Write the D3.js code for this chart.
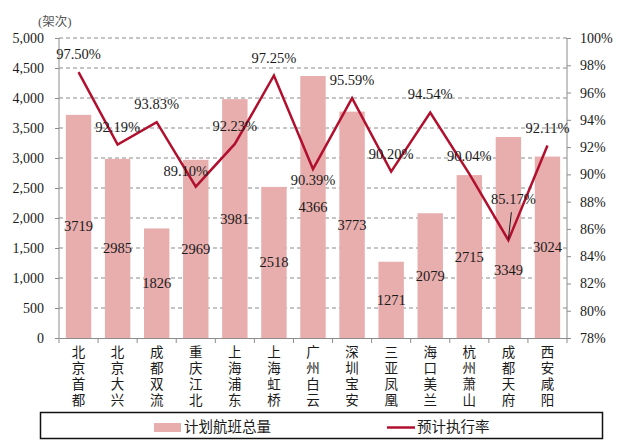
<!DOCTYPE html>
<html>
<head>
<meta charset="utf-8">
<script src="https://cdn.jsdelivr.net/npm/d3@7"></script>
<style>
  body { margin: 0; background: #fff; }
</style>
</head>
<body>
<div id="chart"></div>
<script>
// data
var airports = ["北京首都", "北京大兴", "成都双流", "重庆江北", "上海浦东", "上海虹桥", "广州白云",
                "深圳宝安", "三亚凤凰", "海口美兰", "杭州萧山", "成都天府", "西安咸阳"];
var flights = [3719, 2985, 1826, 2969, 3981, 2518, 4366, 3773, 1271, 2079, 2715, 3349, 3024];
var rates = [97.50, 92.19, 93.83, 89.10, 92.23, 97.25, 90.39, 95.59, 90.20, 94.54, 90.04, 85.17, 92.11];
var leftTicks = [0, 500, 1000, 1500, 2000, 2500, 3000, 3500, 4000, 4500, 5000];
var rightTicks = [78, 80, 82, 84, 86, 88, 90, 92, 94, 96, 98, 100];

var width = 625, height = 441;
var m = {left: 59, right: 567, top: 38, bottom: 338};
var barColor = "#e8adad", lineColor = "#b0102e";
var serif = "'Liberation Serif', 'Times New Roman', serif";
var cjk = "'Noto Sans CJK SC', sans-serif";

var svg = d3.select("#chart").append("svg").attr("width", width).attr("height", height);

var x = d3.scaleBand().domain(airports).range([m.left, m.right]).paddingInner(0.35).paddingOuter(0.175);
var xb = d3.scaleBand().domain(airports).range([m.left, m.right]);
var y = d3.scaleLinear().domain([0, 5000]).range([m.bottom, m.top]);
var y2 = d3.scaleLinear().domain([78, 100]).range([m.bottom, m.top]);

// grid
svg.append("g").selectAll("line")
  .data(leftTicks.filter(d => d > 0))
  .join("line")
  .attr("x1", m.left).attr("x2", m.right)
  .attr("y1", d => y(d)).attr("y2", d => y(d))
  .attr("stroke", "#8a8a8a").attr("stroke-width", 1).attr("stroke-dasharray", "4,3");

// bars
svg.append("g").selectAll("rect")
  .data(flights)
  .join("rect")
  .attr("x", (d, i) => x(airports[i]))
  .attr("width", x.bandwidth())
  .attr("y", d => y(d))
  .attr("height", d => y(0) - y(d))
  .attr("fill", barColor);

// axes
var axL = svg.append("g").attr("transform", "translate(" + m.left + ",0)")
  .call(d3.axisLeft(y).tickValues(leftTicks).tickSize(4).tickPadding(11).tickFormat(d3.format(",")));
var axR = svg.append("g").attr("transform", "translate(" + m.right + ",0)")
  .call(d3.axisRight(y2).tickValues(rightTicks).tickSize(4).tickPadding(9).tickFormat(d => d + "%"));
var axB = svg.append("g").attr("transform", "translate(0," + m.bottom + ")")
  .call(d3.axisBottom(xb).tickSize(0).tickFormat(""));
[axL, axR, axB].forEach(function(g) {
  g.attr("font-family", serif).attr("font-size", 14);
  g.select(".domain").attr("stroke", "#8c8c8c");
  g.selectAll(".tick line").attr("stroke", "#8c8c8c");
  g.selectAll("text").attr("fill", "#1a1a1a");
});
axL.select(".domain").attr("d", "M0," + m.top + "V" + m.bottom);
axR.select(".domain").attr("d", "M0," + m.top + "V" + m.bottom);

// category separators on bottom axis
svg.append("g").selectAll("line")
  .data(airports.concat(["end"]))
  .join("line")
  .attr("x1", (d, i) => m.left + i * xb.step()).attr("x2", (d, i) => m.left + i * xb.step())
  .attr("y1", m.bottom).attr("y2", m.bottom + 5)
  .attr("stroke", "#8c8c8c");

// vertical category labels
svg.append("g").selectAll("text")
  .data(airports)
  .join("text")
  .attr("font-family", cjk)
  .attr("font-size", 13.5)
  .attr("fill", "#1a1a1a")
  .style("writing-mode", "vertical-rl")
  .style("letter-spacing", "2.5px")
  .attr("x", d => xb(d) + xb.bandwidth() / 2)
  .attr("y", 345)
  .text(d => d);

// bar labels (the 成都天府 label sits lower to clear the leader line)
svg.append("g").selectAll("text")
  .data(flights)
  .join("text")
  .attr("font-family", serif)
  .attr("text-anchor", "middle")
  .attr("font-size", 14.5)
  .attr("fill", "#1a1a1a")
  .attr("x", (d, i) => x(airports[i]) + x.bandwidth() / 2)
  .attr("y", (d, i) => (y(d) + y(0)) / 2 + (i === 11 ? 37 : 5))
  .text(d => d);

// rate line
var line = d3.line()
  .x((d, i) => xb(airports[i]) + xb.bandwidth() / 2)
  .y(d => y2(d));
svg.append("path")
  .datum(rates)
  .attr("d", line)
  .attr("fill", "none")
  .attr("stroke", lineColor)
  .attr("stroke-width", 2.5)
  .attr("stroke-linejoin", "miter");

// rate labels (label offsets follow the original layout)
function labelOffset(i) {
  if (i === 6) return [0, 16];
  if (i === 3) return [-10, -11];
  if (i === 11) return [5, -36];
  return [0, -13];
}
var px = i => xb(airports[i]) + xb.bandwidth() / 2;
svg.append("g").selectAll("text")
  .data(rates)
  .join("text")
  .attr("font-family", serif)
  .attr("text-anchor", "middle")
  .attr("font-size", 14.5)
  .attr("fill", "#1a1a1a")
  .attr("x", (d, i) => px(i) + labelOffset(i)[0])
  .attr("y", (d, i) => y2(d) + labelOffset(i)[1])
  .text(d => d.toFixed(2) + "%");

// leader line for 85.17%
svg.append("line")
  .attr("x1", px(11) + 3).attr("y1", y2(rates[11]) - 28)
  .attr("x2", px(11)).attr("y2", y2(rates[11]) - 1)
  .attr("stroke", "#1a1a1a").attr("stroke-width", 1);

// unit title
var ut = svg.append("text")
  .attr("x", 38).attr("y", 26)
  .attr("font-family", serif)
  .attr("font-size", 13).attr("fill", "#555");
ut.append("tspan").text("(");
ut.append("tspan").attr("font-family", cjk).attr("font-size", 12.5).text("架次");
ut.append("tspan").text(")");

// legend
var lg = svg.append("g");
lg.append("rect")
  .attr("x", 40.5).attr("y", 412.5).attr("width", 562).attr("height", 26)
  .attr("fill", "none").attr("stroke", "#111").attr("stroke-width", 1.5);
lg.append("rect")
  .attr("x", 154).attr("y", 423).attr("width", 27).attr("height", 9)
  .attr("fill", barColor);
lg.append("text")
  .attr("font-family", cjk).attr("x", 184).attr("y", 432)
  .attr("font-size", 14.5).attr("fill", "#1a1a1a")
  .text("计划航班总量");
lg.append("line")
  .attr("x1", 387).attr("x2", 415).attr("y1", 427.5).attr("y2", 427.5)
  .attr("stroke", lineColor).attr("stroke-width", 2.5);
lg.append("text")
  .attr("font-family", cjk).attr("x", 417).attr("y", 432)
  .attr("font-size", 14.5).attr("fill", "#1a1a1a")
  .text("预计执行率");
</script>
</body>
</html>
